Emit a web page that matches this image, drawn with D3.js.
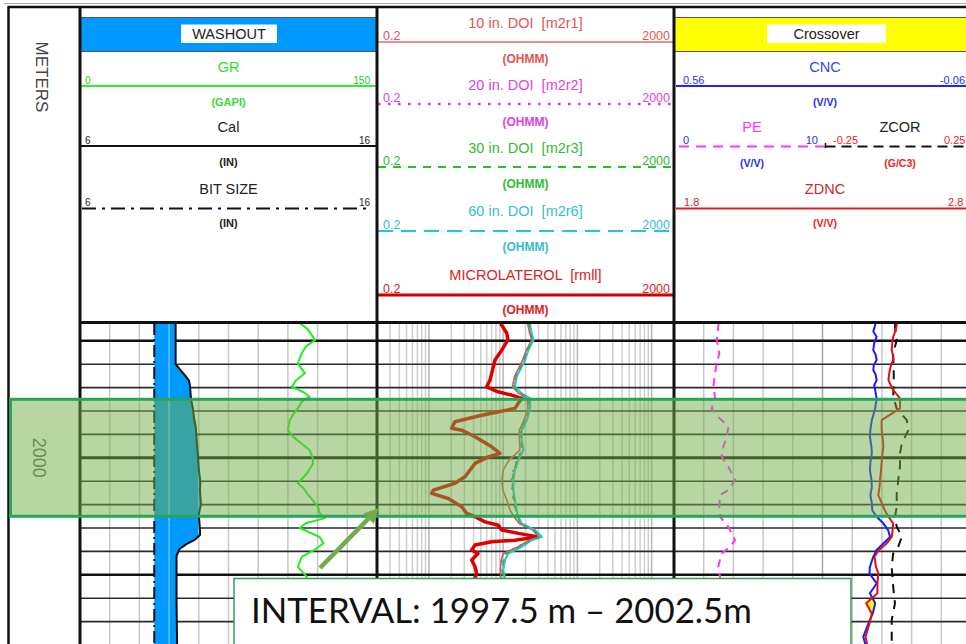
<!DOCTYPE html>
<html>
<head>
<meta charset="utf-8">
<script src="https://cdn.jsdelivr.net/npm/d3@7"></script>
<style>
  html, body { margin: 0; padding: 0; background: #fff; }
  svg { display: block; }
  svg text { white-space: pre; }
</style>
</head>
<body>
<script>
// ------------------------------------------------------------------
// Log data (depth in metres)
// ------------------------------------------------------------------
const depthTop = 1994.24;
const depthBottom = 2008.0;
const intervalTop = 1997.5;
const intervalBottom = 2002.5;
const intervalLabel = "INTERVAL: 1997.5 m \u2013 2002.5m";

// curve scale ranges (header left / right values)
const grRange = [0, 150];
const calRange = [6, 16];
const bitRange = [6, 16];
const resRange = [0.2, 2000];
const cncRange = [0.56, -0.06];
const peRange = [0, 10];
const zcorRange = [-0.25, 0.25];
const zdncRange = [1.8, 2.8];

// gamma ray (GAPI)
const grDepth = [1994.25, 1994.5, 1994.97, 1995.25, 1995.54, 1995.97, 1996.2, 1996.39, 1996.7, 1996.97,
  1997.2, 1997.39, 1997.6, 1997.89, 1998.1, 1998.39, 1998.82, 1999.1, 1999.4, 1999.67,
  2000.0, 2000.24, 2000.67, 2001.09, 2001.3, 2001.52, 2002.09, 2002.35, 2002.58, 2002.8,
  2003.0, 2003.38, 2003.65, 2003.9, 2004.23, 2004.66, 2005.09, 2005.5, 2006.0, 2007.0, 2008.0];
const grValues = [111, 115, 118.7, 114, 112, 110, 112, 113.6, 109, 107,
  113, 116, 112, 110, 108, 106, 105, 107.6, 112, 116,
  117.5, 117.7, 114.6, 110, 113, 114.6, 120.2, 121, 123.7, 114,
  111, 121, 123, 119, 112, 110, 114.6, 112, 116, 113, 115];

// caliper (IN) and bit size (IN)
const calDepth = [1994.24, 1996.0, 1996.2, 1996.5, 1996.7, 1996.9, 1997.5, 1997.9, 1998.3, 1998.7,
  1999.3, 1999.9, 2000.5, 2001.0, 2001.4, 2002.0, 2002.4, 2003.1, 2003.3, 2003.5,
  2003.7, 2003.9, 2004.2, 2006.0, 2008.0];
const calValues = [9.22, 9.22, 9.35, 9.55, 9.67, 9.70, 9.74, 9.80, 9.84, 9.90,
  9.93, 9.97, 10.00, 10.05, 10.04, 10.07, 10.00, 10.04, 10.04, 9.87,
  9.57, 9.35, 9.25, 9.25, 9.27];
const bitDepth = [1994.24, 2008.0];
const bitValues = [8.5, 8.5];

// microlaterolog (OHMM)
const mllDepth = [1994.24, 1994.33, 1994.68, 1994.97, 1995.40, 1995.82, 1996.39, 1996.68, 1996.97, 1997.18,
  1997.32, 1997.46, 1997.60, 1997.89, 1998.18, 1998.46, 1998.74, 1998.82, 1999.10, 1999.53,
  1999.81, 1999.96, 2000.24, 2000.53, 2000.81, 2001.09, 2001.38, 2001.52, 2001.74, 2002.09,
  2002.38, 2002.52, 2002.74, 2002.88, 2003.09, 2003.23, 2003.38, 2003.52, 2003.59, 2003.73,
  2003.94, 2004.09, 2004.37, 2004.66, 2004.94, 2005.15, 2006.0, 2007.0, 2008.0];
const mllValues = [9.3, 9.56, 11.2, 11.6, 9.56, 7.77, 7.01, 6.65, 6.0, 8.53,
  13.0, 17.8, 16.5, 14.4, 5.14, 2.24, 2.03, 2.77, 4.18, 7.01,
  9.07, 6.31, 4.18, 3.58, 3.06, 2.24, 1.15, 1.09, 1.82, 2.77,
  3.23, 4.18, 5.70, 8.61, 9.56, 16.0, 29.7, 14.4, 7.01, 4.18,
  3.77, 4.58, 3.77, 4.18, 4.4, 4.18, 4.5, 5.0, 4.6];

// array induction resistivities (OHMM)
const resDepth = [1994.24, 1994.33, 1994.68, 1994.97, 1995.40, 1995.82, 1996.11, 1996.53, 1996.97, 1997.25,
  1997.46, 1997.89, 1998.39, 1998.82, 1999.25, 1999.67, 2000.10, 2000.53, 2000.95, 2001.38,
  2001.81, 2002.24, 2002.52, 2002.81, 2003.09, 2003.38, 2003.52, 2003.80, 2004.09, 2004.37,
  2004.80, 2005.15, 2006.00, 2007.00, 2008.00];
const m2r1 = [21.5, 21.6, 22.8, 24.2, 20.5, 18.3, 16.5, 14.2, 13.4, 16.2,
  21.0, 21.6, 19.0, 16.5, 16.6, 16.8, 12.0, 10.0, 9.6, 9.9,
  11.2, 12.4, 14.0, 16.6, 25.0, 30.5, 22.5, 15.8, 10.0, 9.4,
  9.2, 9.3, 9.7, 10.4, 10.1];
const m2r2 = [21.8, 22.0, 23.0, 24.5, 20.8, 18.6, 16.8, 14.4, 13.6, 16.5,
  21.4, 22.0, 19.4, 16.8, 17.0, 17.6, 15.1, 13.7, 12.9, 13.1,
  13.7, 14.5, 15.2, 16.8, 25.4, 31.0, 22.8, 16.0, 10.2, 9.5,
  9.3, 9.4, 9.8, 10.5, 10.2];
const m2r3 = [22.4, 22.6, 23.5, 24.8, 21.2, 19.0, 17.3, 14.8, 14.0, 17.0,
  22.0, 22.5, 20.0, 17.2, 17.4, 18.0, 15.5, 14.0, 13.2, 13.4,
  14.0, 14.8, 15.6, 17.2, 26.0, 32.0, 23.5, 17.0, 11.0, 10.1,
  9.7, 10.2, 10.4, 11.0, 10.6];
const m2r6 = [23.0, 23.0, 24.2, 25.5, 21.8, 19.7, 17.8, 15.2, 14.4, 17.8,
  23.0, 23.0, 20.8, 17.8, 17.8, 18.7, 16.0, 14.4, 13.7, 13.7,
  14.4, 15.2, 16.0, 17.8, 26.9, 33.0, 24.2, 17.8, 11.7, 10.6,
  10.0, 10.6, 10.8, 11.5, 11.0];

// neutron (V/V) and density (G/C3)
const nucDepth = [1994.24, 1994.33, 1994.6, 1994.83, 1995.1, 1995.4, 1995.6, 1995.82, 1996.05, 1996.25,
  1996.45, 1996.68, 1996.9, 1997.11, 1997.46, 1997.89, 1998.39, 1998.8, 1999.1, 1999.5,
  1999.81, 2000.2, 2000.53, 2000.9, 2001.24, 2001.6, 2001.95, 2002.25, 2002.52, 2002.8,
  2003.09, 2003.38, 2003.66, 2003.94, 2004.23, 2004.66, 2004.94, 2005.37, 2005.79, 2006.22,
  2006.65, 2007.08, 2007.65, 2008.0];
const cncValues = [0.140, 0.140, 0.144, 0.137, 0.142, 0.144, 0.139, 0.137, 0.143, 0.144,
  0.139, 0.137, 0.142, 0.140, 0.137, 0.140, 0.147, 0.150, 0.151, 0.148,
  0.147, 0.150, 0.151, 0.148, 0.147, 0.150, 0.147, 0.146, 0.137, 0.123,
  0.113, 0.109, 0.123, 0.137, 0.144, 0.151, 0.152, 0.137, 0.151, 0.140,
  0.145, 0.154, 0.165, 0.160];
const zdncValues = [2.548, 2.550, 2.545, 2.538, 2.535, 2.533, 2.537, 2.538, 2.530, 2.527,
  2.524, 2.522, 2.530, 2.538, 2.561, 2.561, 2.499, 2.499, 2.502, 2.505,
  2.502, 2.499, 2.497, 2.494, 2.492, 2.488, 2.500, 2.510, 2.522, 2.538,
  2.536, 2.533, 2.516, 2.490, 2.475, 2.480, 2.488, 2.485, 2.485, 2.447,
  2.466, 2.458, 2.445, 2.451];

// photoelectric factor
const peDepth = [1994.24, 1994.4, 1994.97, 1995.54, 1995.97, 1996.39, 1996.97, 1997.39, 1997.89, 1998.25,
  1998.68, 1999.1, 1999.53, 1999.96, 2000.38, 2000.95, 2001.38, 2001.59, 2002.09, 2002.52,
  2002.95, 2003.52, 2003.8, 2004.09, 2004.66, 2005.09, 2006.0, 2007.0, 2008.0];
const peValues = [3.0, 2.98, 2.88, 3.05, 2.88, 2.76, 2.65, 2.76, 2.54, 2.98,
  3.66, 3.55, 3.32, 3.21, 3.66, 4.11, 3.66, 3.10, 3.05, 3.10,
  3.66, 4.11, 3.77, 3.21, 2.98, 3.10, 3.0, 3.1, 3.0];

// density correction (G/C3)
const zcorDepth = [1994.24, 1994.4, 1994.97, 1995.54, 1996.5, 1997.39, 1997.89, 1998.39, 1998.82, 1999.39,
  1999.81, 2000.38, 2000.95, 2001.52, 2002.09, 2002.52, 2002.95, 2003.38, 2003.8, 2004.09,
  2004.66, 2005.51, 2006.22, 2006.94, 2007.79, 2008.0];
const zcorValues = [-0.005, -0.006, 0.0, -0.012, -0.010, -0.012, 0.0, 0.034, 0.039, 0.017,
  0.011, 0.011, 0.005, 0.0, 0.0, -0.006, 0.0, 0.017, 0.005, -0.012,
  -0.017, -0.012, -0.006, -0.017, -0.017, -0.016];

// ------------------------------------------------------------------
// Layout
// ------------------------------------------------------------------
const W = 966, H = 644;
const FONT = "'Liberation Sans', Arial, sans-serif";
const trackDepth = [8.5, 80];
const track1 = [80, 377];
const track2 = [377, 674];
const track3 = [674, 971];
const headTop = 7, headBottom = 322.5;
const dataTop = 323, dataBottom = 644;
const pxPerMetre = 23.4;

const y = d3.scaleLinear()
  .domain([depthTop, depthBottom])
  .range([dataTop, dataTop + (depthBottom - depthTop) * pxPerMetre]);

const xGR = d3.scaleLinear().domain(grRange).range(track1);
const xCal = d3.scaleLinear().domain(calRange).range(track1);
const xBit = d3.scaleLinear().domain(bitRange).range(track1);
const xRes = d3.scaleLog().domain(resRange).range(track2);
const xCnc = d3.scaleLinear().domain(cncRange).range(track3);
const xZdnc = d3.scaleLinear().domain(zdncRange).range(track3);
const trackMid3 = (track3[0] + track3[1]) / 2;
const xPe = d3.scaleLinear().domain(peRange).range([track3[0], trackMid3]);
const xZcor = d3.scaleLinear().domain(zcorRange).range([trackMid3, track3[1]]);

const svg = d3.select("body").append("svg")
  .attr("width", W).attr("height", H)
  .attr("viewBox", `0 0 ${W} ${H}`);
const defs = svg.append("defs");
svg.append("rect").attr("width", W).attr("height", H).attr("fill", "#fff");

function clipRect(id, x0, x1) {
  defs.append("clipPath").attr("id", id)
    .append("rect").attr("x", x0).attr("y", dataTop)
    .attr("width", x1 - x0).attr("height", dataBottom - dataTop);
  return `url(#${id})`;
}
const clip1 = clipRect("clip-t1", track1[0], track1[1]);
const clip2 = clipRect("clip-t2", track2[0], track2[1]);
const clip3 = clipRect("clip-t3", track3[0], track3[1]);

const zipCurve = (depths, values) => depths.map((d, i) => ({ depth: d, v: values[i] }));
const lineFor = xs => d3.line().x(d => xs(d.v)).y(d => y(d.depth));

// ------------------------------------------------------------------
// Header
// ------------------------------------------------------------------
const head = svg.append("g").attr("font-family", FONT);

// coloured title bands
function band(track, fill, label, boxX, boxW) {
  head.append("rect").attr("x", track[0]).attr("y", 17).attr("width", track[1] - track[0]).attr("height", 35)
    .attr("fill", fill);
  head.append("line").attr("x1", track[0]).attr("x2", track[1]).attr("y1", 17.5).attr("y2", 17.5)
    .attr("stroke", "#555").attr("stroke-width", 1);
  head.append("line").attr("x1", track[0]).attr("x2", track[1]).attr("y1", 51.5).attr("y2", 51.5)
    .attr("stroke", "#555").attr("stroke-width", 1.2);
  head.append("rect").attr("x", boxX).attr("y", 24.5).attr("width", boxW).attr("height", 18.5).attr("fill", "#fff");
  head.append("text").attr("x", boxX + boxW / 2).attr("y", 39).attr("text-anchor", "middle")
    .attr("font-size", 14.5).attr("fill", "#222").text(label);
}
band(track1, "#0099ff", "WASHOUT", 181, 96);
band(track3, "#ffff00", "Crossover", 767, 119);

// one header entry: title, scale line with end values, units
function headerCurve(o) {
  const g = head.append("g");
  if (o.title) {
    g.append("text").attr("x", o.cx).attr("y", o.titleY).attr("text-anchor", "middle")
      .attr("font-size", 14.5).attr("fill", o.titleColor).text(o.title);
  }
  g.append("line").attr("x1", o.x0).attr("x2", o.x1).attr("y1", o.lineY).attr("y2", o.lineY)
    .attr("stroke", o.lineColor).attr("stroke-width", o.lineWidth || 2)
    .attr("stroke-dasharray", o.dash || null);
  g.append("text").attr("x", o.lx).attr("y", o.lineY - 2.5).attr("font-size", o.numSize)
    .attr("fill", o.numColor).text(String(o.range[0]));
  g.append("text").attr("x", o.rx).attr("y", o.lineY - 2.5).attr("font-size", o.numSize)
    .attr("text-anchor", o.rAnchor || "end").attr("fill", o.numColor).text(String(o.range[1]));
  if (o.unit) {
    g.append("text").attr("x", o.ucx || o.cx).attr("y", o.unitY).attr("text-anchor", "middle")
      .attr("font-size", o.unitSize || 10.5).attr("font-weight", "bold").attr("fill", o.unitColor).text(o.unit);
  }
}

// track 1 header
const c1 = (track1[0] + track1[1]) / 2;
headerCurve({ cx: c1, title: "GR", titleY: 72, titleColor: "#2ee02e", x0: track1[0] + 1, x1: track1[1],
  lineY: 86, lineColor: "#33ee33", range: grRange, lx: 85, rx: 370, numSize: 10, numColor: "#22cc22",
  unit: "(GAPI)", unitSize: 11, unitY: 106, unitColor: "#33dd33" });
headerCurve({ cx: c1, title: "Cal", titleY: 132, titleColor: "#222", x0: track1[0] + 1, x1: track1[1],
  lineY: 146, lineColor: "#111", range: calRange, lx: 85, rx: 370, numSize: 10, numColor: "#222",
  unit: "(IN)", unitSize: 11, unitY: 166, unitColor: "#222" });
headerCurve({ cx: c1, title: "BIT SIZE", titleY: 194, titleColor: "#222", x0: track1[0] + 2, x1: track1[1] - 5,
  lineY: 208.5, lineColor: "#111", dash: "14,6,3,6", range: bitRange, lx: 85, rx: 370, numSize: 10, numColor: "#222",
  unit: "(IN)", unitSize: 11, unitY: 226.5, unitColor: "#222" });

// track 2 header
const c2 = (track2[0] + track2[1]) / 2;
const resHeaders = [
  { title: "10 in. DOI  [m2r1]", color: "#e05555", line: "#e06a6a", dash: null, width: 1.6, titleY: 28, lineY: 42, unitY: 63 },
  { title: "20 in. DOI  [m2r2]", color: "#dd44dd", line: "#dd33dd", dash: "2.5,7.5", width: 2.5, titleY: 90, lineY: 104, unitY: 126 },
  { title: "30 in. DOI  [m2r3]", color: "#33bb33", line: "#22c422", dash: "8,7", width: 2, titleY: 153, lineY: 167, unitY: 188 },
  { title: "60 in. DOI  [m2r6]", color: "#33bfcc", line: "#22c6d6", dash: "15,8", width: 2.2, titleY: 216, lineY: 231, unitY: 251 },
  { title: "MICROLATEROL  [rmll]", color: "#dd2222", line: "#cc0000", dash: null, width: 3, titleY: 280, lineY: 295, unitY: 314 }
];
resHeaders.forEach(r => headerCurve({ cx: c2, title: r.title, titleY: r.titleY, titleColor: r.color,
  x0: track2[0] + 1, x1: track2[1], lineY: r.lineY, lineColor: r.line, lineWidth: r.width, dash: r.dash,
  range: resRange, lx: 383, rx: 670, numSize: 12.5, numColor: r.color,
  unit: "(OHMM)", unitSize: 12, unitY: r.unitY, unitColor: r.color }));

// track 3 header
const c3 = 825;
headerCurve({ cx: c3, title: "CNC", titleY: 72, titleColor: "#2f45ff", x0: track3[0] + 2, x1: track3[1],
  lineY: 86, lineColor: "#2222ff", range: cncRange, lx: 683, rx: 965, numSize: 11, numColor: "#2233ee",
  unit: "(V/V)", unitY: 106, unitColor: "#2233ee" });
headerCurve({ cx: 752, title: "PE", titleY: 132, titleColor: "#ff33ff", x0: track3[0] + 5, x1: trackMid3 + 3,
  lineY: 146.5, lineColor: "#ff33ff", dash: "10,7", range: peRange, lx: 683, rx: 818, numSize: 11, numColor: "#2233ee",
  unit: "(V/V)", unitY: 166.5, unitColor: "#2233ee" });
headerCurve({ cx: 900, title: "ZCOR", titleY: 132, titleColor: "#222", x0: trackMid3 + 3, x1: track3[1],
  lineY: 146.5, lineColor: "#111", dash: "10,6", range: zcorRange, lx: 833, rx: 944, rAnchor: "start",
  numSize: 11, numColor: "#ee2222", unit: "(G/C3)", unitY: 166.5, unitColor: "#ee2222" });
head.append("line").attr("x1", trackMid3 + 3).attr("x2", trackMid3 + 3).attr("y1", 143).attr("y2", 148)
  .attr("stroke", "#111").attr("stroke-width", 1.5);
headerCurve({ cx: c3, title: "ZDNC", titleY: 194, titleColor: "#cc2a2a", x0: track3[0] + 2, x1: track3[1],
  lineY: 208.5, lineColor: "#dd2222", range: zdncRange, lx: 684, rx: 948, rAnchor: "start",
  numSize: 11, numColor: "#dd2222", unit: "(V/V)", unitY: 226.5, unitColor: "#ee2222" });

// depth column title
head.append("text").attr("transform", "translate(36,77) rotate(90)")
  .attr("text-anchor", "middle").attr("font-size", 17).attr("fill", "#444").text("METERS");

// ------------------------------------------------------------------
// Data area grid
// ------------------------------------------------------------------
const grid = svg.append("g");
const metreLines = d3.range(Math.ceil(depthTop), depthBottom);

// vertical grid lines
const vGrid = [];
xCal.ticks(10).slice(1, -1).forEach(v => vGrid.push({ x: xCal(v), c: "#c8c8c8", t: 1 }));
xRes.ticks().filter(v => v > resRange[0] && v < resRange[1]).forEach(v => {
  const decade = Math.abs(Math.log10(v) - Math.round(Math.log10(v))) < 1e-9;
  vGrid.push({ x: xRes(v), c: decade ? "#b8b8b8" : "#cfcfcf", t: 2 });
});
xZdnc.ticks(10).slice(1, -1).forEach((v, i) => vGrid.push({ x: xZdnc(v), c: i === 4 ? "#a8a8a8" : "#c8c8c8", t: 3 }));
grid.selectAll("line.v").data(vGrid).join("line").attr("class", "v")
  .attr("x1", d => d.x).attr("x2", d => d.x).attr("y1", dataTop).attr("y2", dataBottom)
  .attr("stroke", d => d.c).attr("stroke-width", 1.5);

// horizontal metre lines, heavier every 5 m
grid.selectAll("line.h").data(metreLines).join("line").attr("class", "h")
  .attr("x1", track1[0]).attr("x2", track3[1])
  .attr("y1", d => y(d)).attr("y2", d => y(d))
  .attr("stroke", d => d % 5 === 0 ? "#111" : "#2a2a2a")
  .attr("stroke-width", d => d % 10 === 0 ? 3 : (d % 5 === 0 ? 2.4 : 1.6));

// ------------------------------------------------------------------
// Track 1: washout fill, caliper, bit size, GR
// ------------------------------------------------------------------
const t1 = svg.append("g").attr("clip-path", clip1);
const calData = zipCurve(calDepth, calValues);
const washArea = d3.area()
  .y(d => y(d.depth))
  .x0(() => xBit(bitValues[0]))
  .x1(d => xCal(d.v));
t1.append("path").datum(calData).attr("d", washArea).attr("fill", "#0099ff");
defs.append("clipPath").attr("id", "wash-clip").append("path").datum(calData).attr("d", washArea);
t1.append("g").attr("clip-path", "url(#wash-clip)")
  .selectAll("line").data(vGrid.filter(d => d.t === 1)).join("line")
  .attr("x1", d => d.x).attr("x2", d => d.x).attr("y1", dataTop).attr("y2", dataBottom)
  .attr("stroke", "#fff").attr("stroke-opacity", 0.4).attr("stroke-width", 1.5);
t1.append("path").datum(calData).attr("d", lineFor(xCal))
  .attr("fill", "none").attr("stroke", "#111").attr("stroke-width", 2);
t1.append("path").datum(zipCurve(bitDepth, bitValues)).attr("d", lineFor(xBit))
  .attr("fill", "none").attr("stroke", "#111").attr("stroke-width", 2).attr("stroke-dasharray", "12,4,2,4");
t1.append("path").datum(zipCurve(grDepth, grValues)).attr("d", lineFor(xGR))
  .attr("fill", "none").attr("stroke", "#22ee22").attr("stroke-width", 2).attr("stroke-linejoin", "round");

// ------------------------------------------------------------------
// Track 2: resistivity (log scale)
// ------------------------------------------------------------------
const t2 = svg.append("g").attr("clip-path", clip2);
t2.append("path").datum(zipCurve(mllDepth, mllValues)).attr("d", lineFor(xRes))
  .attr("fill", "none").attr("stroke", "#dd0000").attr("stroke-width", 3.5).attr("stroke-linejoin", "round");
t2.append("path").datum(zipCurve(resDepth, m2r1)).attr("d", lineFor(xRes))
  .attr("fill", "none").attr("stroke", "#d85a4a").attr("stroke-width", 1.6);
t2.append("path").datum(zipCurve(resDepth, m2r6)).attr("d", lineFor(xRes))
  .attr("fill", "none").attr("stroke", "#22c8d8").attr("stroke-width", 2.2);
t2.append("path").datum(zipCurve(resDepth, m2r3)).attr("d", lineFor(xRes))
  .attr("fill", "none").attr("stroke", "#22c422").attr("stroke-width", 1.6).attr("stroke-dasharray", "6,5");
t2.append("path").datum(zipCurve(resDepth, m2r2)).attr("d", lineFor(xRes))
  .attr("fill", "none").attr("stroke", "#dd33dd").attr("stroke-width", 1.8).attr("stroke-dasharray", "2,7");

// ------------------------------------------------------------------
// Track 3: neutron-density crossover, PE, ZCOR
// ------------------------------------------------------------------
const t3 = svg.append("g").attr("clip-path", clip3);
const cncData = zipCurve(nucDepth, cncValues);
const zdncData = zipCurve(nucDepth, zdncValues);
defs.append("clipPath").attr("id", "cnc-left").append("path").datum(cncData)
  .attr("d", d3.area().y(d => y(d.depth)).x0(track3[0]).x1(d => xCnc(d.v)));
t3.append("path").datum(zdncData).attr("clip-path", "url(#cnc-left)")
  .attr("d", d3.area().y(d => y(d.depth)).x0(d => xZdnc(d.v)).x1(track3[1]))
  .attr("fill", "#ffff00");
t3.append("path").datum(zipCurve(peDepth, peValues)).attr("d", lineFor(xPe))
  .attr("fill", "none").attr("stroke", "#ff33ff").attr("stroke-width", 2).attr("stroke-dasharray", "8,6");
t3.append("path").datum(zipCurve(zcorDepth, zcorValues)).attr("d", lineFor(xZcor))
  .attr("fill", "none").attr("stroke", "#111").attr("stroke-width", 2).attr("stroke-dasharray", "9,7");
t3.append("path").datum(cncData).attr("d", lineFor(xCnc))
  .attr("fill", "none").attr("stroke", "#1a1aff").attr("stroke-width", 2).attr("stroke-linejoin", "round");
t3.append("path").datum(zdncData).attr("d", lineFor(xZdnc))
  .attr("fill", "none").attr("stroke", "#e01010").attr("stroke-width", 2).attr("stroke-linejoin", "round");

// ------------------------------------------------------------------
// Depth labels and frame
// ------------------------------------------------------------------
svg.append("g").selectAll("text").data(y.ticks(20).filter(d => d % 10 === 0)).join("text")
  .attr("transform", d => `translate(33,${y(d)}) rotate(90)`)
  .attr("text-anchor", "middle").attr("font-family", FONT).attr("font-size", 18)
  .attr("fill", "#6a6a6a").text(d => d);

const frame = svg.append("g").attr("stroke", "#111").attr("fill", "none");
frame.append("line").attr("x1", 4).attr("x2", W).attr("y1", 3.5).attr("y2", 3.5).attr("stroke", "#aaa").attr("stroke-width", 1);
frame.append("line").attr("x1", trackDepth[0] - 1).attr("x2", W).attr("y1", headTop).attr("y2", headTop).attr("stroke-width", 2.5);
frame.append("line").attr("x1", trackDepth[0]).attr("x2", trackDepth[0]).attr("y1", headTop).attr("y2", H).attr("stroke-width", 2.5);
[track1[0], track2[0], track3[0]].forEach(x => {
  frame.append("line").attr("x1", x).attr("x2", x).attr("y1", headTop).attr("y2", H).attr("stroke-width", 3);
});
frame.append("line").attr("x1", track1[0]).attr("x2", W).attr("y1", headBottom).attr("y2", headBottom).attr("stroke-width", 3);

// ------------------------------------------------------------------
// Highlighted interval and annotation
// ------------------------------------------------------------------
const hiY0 = y(intervalTop), hiY1 = y(intervalBottom);
svg.append("rect").attr("x", 10.5).attr("y", hiY0).attr("width", W).attr("height", hiY1 - hiY0)
  .attr("fill", "rgb(112,173,71)").attr("fill-opacity", 0.5);
svg.append("rect").attr("x", 10.5).attr("y", hiY0).attr("width", W + 10).attr("height", hiY1 - hiY0)
  .attr("fill", "none").attr("stroke", "#27a55a").attr("stroke-width", 3);

// arrow
const ax0 = 320, ay0 = 568, ax1 = 379, ay1 = 508;
const ang = Math.atan2(ay1 - ay0, ax1 - ax0);
const headLen = 15, headHalf = 7.5;
const bx = ax1 - headLen * Math.cos(ang), by = ay1 - headLen * Math.sin(ang);
svg.append("line").attr("x1", ax0).attr("y1", ay0).attr("x2", bx).attr("y2", by)
  .attr("stroke", "#70ad47").attr("stroke-width", 4.5);
svg.append("path").attr("fill", "#70ad47")
  .attr("d", `M${ax1},${ay1} L${bx + headHalf * Math.sin(ang)},${by - headHalf * Math.cos(ang)} L${bx - headHalf * Math.sin(ang)},${by + headHalf * Math.cos(ang)} Z`);

// label box
svg.append("rect").attr("x", 234).attr("y", 578.5).attr("width", 617).attr("height", 90)
  .attr("fill", "#fff").attr("stroke", "#2f9e55").attr("stroke-width", 1.5);
const lbl = svg.append("text").attr("x", 251).attr("y", 623)
  .attr("font-family", "Lato, 'Open Sans', sans-serif").attr("font-size", 32).attr("fill", "#111")
  .text(intervalLabel);
const len = lbl.node().getComputedTextLength();
if (len > 0) lbl.attr("font-size", 32 * 501 / len);
</script>
</body>
</html>
